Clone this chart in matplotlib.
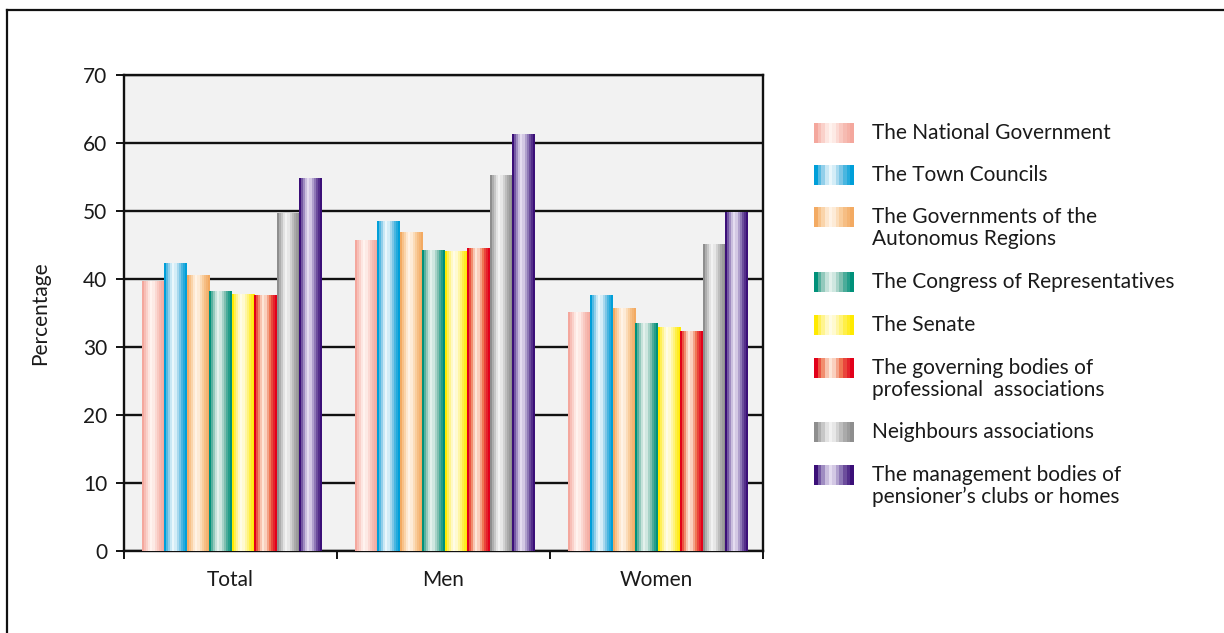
import numpy as np
import matplotlib
matplotlib.use("Agg")
import matplotlib.pyplot as plt
from matplotlib.colors import LinearSegmentedColormap
from matplotlib.lines import Line2D

plt.rcParams["font.family"] = ["Lato", "DejaVu Sans"]

# survey groups and institutions
groups = ["Total", "Men", "Women"]
institutions = [
    "The National Government",
    "The Town Councils",
    "The Governments of the\nAutonomus Regions",
    "The Congress of Representatives",
    "The Senate",
    "The governing bodies of\nprofessional  associations",
    "Neighbours associations",
    "The management bodies of\npensioner\u2019s clubs or homes",
]

national = [39.7, 45.7, 35.1]
town = [42.4, 48.5, 37.6]
autonomous = [40.6, 46.9, 35.7]
congress = [38.2, 44.3, 33.5]
senate = [37.8, 44.1, 32.9]
professional = [37.6, 44.6, 32.3]
neighbours = [49.7, 55.3, 45.1]
pensioners = [54.9, 61.3, 49.9]
series = [national, town, autonomous, congress, senate, professional,
          neighbours, pensioners]

# edge / middle / highlight colour of each striped bar
STRIPES = [
    ("#F4A79D", "#F9C9C1", "#FFF3EF"),
    ("#009FD9", "#7CC6E6", "#EAF7FC"),
    ("#F3AA62", "#F9CD9C", "#FFF3E6"),
    ("#00917A", "#7FBFB0", "#E3F1EC"),
    ("#FFEA00", "#FFF37A", "#FFFCE6"),
    ("#E2001A", "#EF7754", "#FDE6D8"),
    ("#8E8E8E", "#BDBDBD", "#F2F2F2"),
    ("#3B0F78", "#8E78B6", "#E4DCF0"),
]
# mix weight per vertical stripe, 0 = edge colour, 1 = highlight
PROFILE = np.array([0.0, 0.35, 0.6, 0.85, 1.0, 0.9, 0.7, 0.5, 0.3, 0.15, 0.0])

PLOT_BG = "#F2F2F2"
TEXT = "#1A1A1A"
FS = 15


def stripe_cmap(cols):
    return LinearSegmentedColormap.from_list("s", [cols[0], cols[1], cols[2]])


def stripe_fill(ax, x0, x1, y0, y1, cols, clip=None):
    img = PROFILE[np.newaxis, :]
    im = ax.imshow(img, cmap=stripe_cmap(cols), vmin=0, vmax=1,
                   extent=(x0, x1, y0, y1), aspect="auto",
                   interpolation="nearest", zorder=3)
    if clip is not None:
        im.set_clip_path(clip)
    return im


fig = plt.figure(figsize=(12.24, 6.33), dpi=100, facecolor="white")
ax = fig.add_axes([124 / 1224, 1 - 551 / 633, (763 - 124) / 1224, (551 - 75) / 633])
ax.set_facecolor(PLOT_BG)

n = len(series)
bw = 0.1055
x = np.arange(len(groups))
for j, vals in enumerate(series):
    pos = x + (j - (n - 1) / 2) * bw + 0.006
    bars = ax.bar(pos, vals, width=bw, color="none", linewidth=0, zorder=3)
    for b in bars:
        x0, y0 = b.get_x(), b.get_y()
        stripe_fill(ax, x0, x0 + b.get_width(), y0, y0 + b.get_height(),
                    STRIPES[j], clip=b)

ax.set_xlim(-0.5, 2.5)
ax.set_ylim(0, 70)
ax.set_yticks(np.arange(0, 71, 10))
ax.yaxis.grid(True, color="#111111", linewidth=1.7)
ax.set_axisbelow(True)

ax.set_xticks(x)
ax.set_xticklabels(groups, fontsize=FS, color=TEXT)
ax.set_xticks([-0.5, 0.5, 1.5, 2.5], minor=True)
ax.tick_params(axis="x", which="major", length=0, pad=14)
ax.tick_params(axis="x", which="minor", length=6, width=1.3, direction="out")
ax.tick_params(axis="y", length=6, width=1.3, labelsize=FS, labelcolor=TEXT, pad=6)
for s in ax.spines.values():
    s.set_color("#111111")
    s.set_linewidth(1.7)
ax.set_ylabel("Percentage", fontsize=FS, color=TEXT, labelpad=24)

# legend with striped swatches, in pixel coordinates
lax = fig.add_axes([0, 0, 1, 1], facecolor="none")
lax.set_xlim(0, 1224)
lax.set_ylim(633, 0)
lax.axis("off")
swatch_y = [133, 175, 217, 282, 325, 368, 432, 475]
for j, (label, yc) in enumerate(zip(institutions, swatch_y)):
    stripe_fill(lax, 814, 854, yc + 10, yc - 10, STRIPES[j])
    for k, line in enumerate(label.split("\n")):
        lax.text(872, yc + k * 22, line, fontsize=FS, color=TEXT, va="center")

# outer frame: top and left rules
fig.add_artist(Line2D([7 / 1224, 1], [1 - 10 / 633, 1 - 10 / 633],
                      transform=fig.transFigure, color="#111111", linewidth=1.6))
fig.add_artist(Line2D([7 / 1224, 7 / 1224], [0, 1 - 10 / 633],
                      transform=fig.transFigure, color="#111111", linewidth=1.6))

fig.savefig("out.png", dpi=100, facecolor="white")
